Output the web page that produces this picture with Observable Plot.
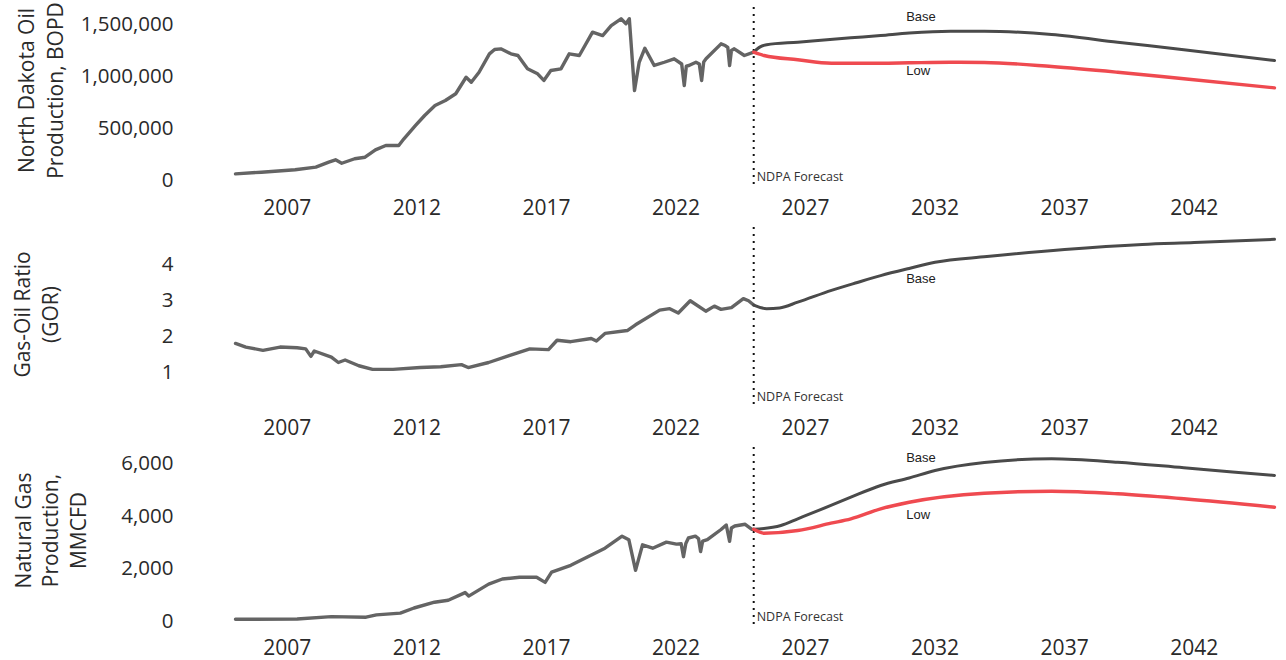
<!DOCTYPE html>
<html><head><meta charset="utf-8">
<script src="https://cdn.jsdelivr.net/npm/d3@7"></script>
<script src="https://cdn.jsdelivr.net/npm/@observablehq/plot@0.6"></script>
<style>
body{margin:0;background:#fff;}
#chart{position:relative;width:1286px;height:660px;overflow:hidden;}
#chart svg{display:block;overflow:visible;}
</style></head><body><div id="chart"></div>
<script>
// ---------- data ----------
const xTicks = [2007, 2012, 2017, 2022, 2027, 2032, 2037, 2042];
const forecastStart = 2025;
const forecastLabel = "NDPA Forecast";
const labelYear = 2031;

// Oil production, BOPD
const oilHistYear = [2005.0, 2006.0, 2007.3, 2008.1, 2008.6, 2008.86, 2009.1, 2009.6, 2010.0, 2010.4, 2010.8, 2011.3, 2011.5, 2011.95, 2012.3, 2012.7, 2013.1, 2013.5, 2013.9, 2014.1, 2014.4, 2014.8, 2015.0, 2015.24, 2015.63, 2015.9, 2016.27, 2016.66, 2016.9, 2017.17, 2017.56, 2017.88, 2018.27, 2018.78, 2019.17, 2019.5, 2019.88, 2020.07, 2020.2, 2020.4, 2020.58, 2020.8, 2021.16, 2021.55, 2021.93, 2022.22, 2022.32, 2022.4, 2022.5, 2022.77, 2022.9, 2022.99, 2023.07, 2023.16, 2023.74, 2023.9, 2024.0, 2024.07, 2024.14, 2024.25, 2024.64, 2025.0];
const oilHistValue = [64000, 80000, 103000, 128000, 176000, 199000, 166000, 209000, 224000, 295000, 337000, 337000, 401000, 529000, 625000, 721000, 769000, 834000, 993000, 945000, 1041000, 1218000, 1260000, 1266000, 1218000, 1202000, 1074000, 1026000, 962000, 1058000, 1074000, 1218000, 1202000, 1426000, 1394000, 1490000, 1555000, 1507000, 1555000, 865000, 1137000, 1272000, 1106000, 1137000, 1170000, 1120000, 913000, 1100000, 1106000, 1137000, 1120000, 962000, 1140000, 1170000, 1314000, 1298000, 1280000, 1106000, 1250000, 1266000, 1202000, 1234000];
const oilBaseYear = [2025.0, 2025.25, 2025.5, 2026.7, 2028.75, 2029.9, 2031.0, 2032.6, 2033.9, 2036.5, 2039.05, 2041.6, 2045.1];
const oilBaseValue = [1234000, 1285000, 1305000, 1330000, 1372000, 1394000, 1418000, 1436000, 1436000, 1404000, 1330000, 1257000, 1154000];
const oilLowYear = [2025.0, 2025.4, 2026.7, 2028.0, 2029.9, 2031.0, 2032.6, 2033.9, 2036.5, 2039.05, 2041.6, 2045.1];
const oilLowValue = [1234000, 1202000, 1161000, 1128000, 1128000, 1132000, 1137000, 1135000, 1096000, 1041000, 978000, 891000];
const oilTicks = [0, 500000, 1000000, 1500000];

// Gas-oil ratio
const gorHistYear = [2005.0, 2005.4, 2006.06, 2006.72, 2007.38, 2007.71, 2007.91, 2008.04, 2008.7, 2008.97, 2009.23, 2009.76, 2010.29, 2011.08, 2012.13, 2012.92, 2013.72, 2013.98, 2014.77, 2015.56, 2016.36, 2017.08, 2017.41, 2017.94, 2018.73, 2018.93, 2019.26, 2020.12, 2020.44, 2021.37, 2021.76, 2022.09, 2022.55, 2023.15, 2023.48, 2023.74, 2024.14, 2024.6, 2024.8, 2025.0];
const gorHistValue = [1.80, 1.70, 1.61, 1.70, 1.68, 1.65, 1.44, 1.59, 1.42, 1.27, 1.34, 1.18, 1.08, 1.08, 1.13, 1.15, 1.21, 1.13, 1.27, 1.46, 1.65, 1.63, 1.89, 1.85, 1.94, 1.87, 2.08, 2.16, 2.32, 2.73, 2.77, 2.65, 2.99, 2.70, 2.84, 2.75, 2.80, 3.05, 2.99, 2.87];
const gorBaseYear = [2025.0, 2025.5, 2026.0, 2026.7, 2028.0, 2029.0, 2029.9, 2031.0, 2032.0, 2034.0, 2037.0, 2040.0, 2042.0, 2045.1];
const gorBaseValue = [2.87, 2.77, 2.79, 2.95, 3.28, 3.50, 3.69, 3.89, 4.06, 4.22, 4.42, 4.56, 4.61, 4.70];
const gorTicks = [1, 2, 3, 4];

// Natural gas production, MMCFD
const gasHistYear = [2005.0, 2007.38, 2008.7, 2010.04, 2010.44, 2011.36, 2011.89, 2012.68, 2013.21, 2013.86, 2014.0, 2014.77, 2015.3, 2015.96, 2016.62, 2016.95, 2017.2, 2017.94, 2018.6, 2019.26, 2019.92, 2020.18, 2020.44, 2020.71, 2021.1, 2021.63, 2022.02, 2022.2, 2022.29, 2022.38, 2022.48, 2022.75, 2022.87, 2022.95, 2023.03, 2023.21, 2023.74, 2023.94, 2024.07, 2024.14, 2024.27, 2024.67, 2024.93, 2025.0];
const gasHistValue = [84, 95, 186, 163, 251, 319, 513, 733, 809, 1098, 965, 1420, 1614, 1679, 1679, 1485, 1876, 2134, 2461, 2784, 3240, 3107, 1941, 2913, 2784, 3016, 2940, 2950, 2461, 2960, 3171, 3240, 3150, 2655, 3050, 3107, 3494, 3665, 3042, 3550, 3627, 3692, 3498, 3500];
const gasBaseYear = [2025.0, 2026.05, 2026.7, 2027.98, 2028.75, 2029.9, 2031.0, 2032.0, 2033.9, 2036.5, 2039.05, 2041.6, 2045.1];
const gasBaseValue = [3500, 3646, 3900, 4406, 4721, 5165, 5450, 5735, 6040, 6179, 6050, 5837, 5545];
const gasLowYear = [2025.0, 2025.4, 2026.7, 2027.98, 2028.75, 2029.9, 2031.0, 2033.9, 2036.5, 2039.05, 2041.6, 2045.1];
const gasLowValue = [3500, 3354, 3456, 3733, 3900, 4280, 4530, 4873, 4949, 4850, 4660, 4341];
const gasTicks = [0, 2000, 4000, 6000];

// ---------- drawing ----------
const rows = (ys, vs) => ys.map((t, i) => ({t, v: vs[i]}));
const W = 1286, H = 220;
const tickFont = "'Open Sans', 'Noto Sans', sans-serif";
const smallFont = "'Liberation Sans', Arial, sans-serif";

function panel(o) {
  const hist = rows(o.histYear, o.histValue);
  const base = rows(o.baseYear, o.baseValue);
  const low = o.lowYear ? rows(o.lowYear, o.lowValue) : null;
  const marks = [
    Plot.axisX({ticks: xTicks, tickFormat: d => String(d), tickSize: 0, tickPadding: 20, label: null, fill: "#2a2a2a", fontSize: 21}),
    Plot.axisY({ticks: o.ticks, tickFormat: d3.format(","), tickSize: 0, tickPadding: 62, label: null, fill: "#2a2a2a", fontSize: 20.5}),
    Plot.text([o.title], {frameAnchor: "left", text: d => d, rotate: -90, textAnchor: "middle", lineAnchor: "middle",
      dx: o.titleDx, dy: o.titleDy, fontSize: 21, lineHeight: o.titleLH, fill: "#2a2a2a", fontFamily: tickFont}),
    Plot.ruleX([forecastStart], {stroke: "#111", strokeWidth: 2, strokeDasharray: "2,5", insetTop: -17, insetBottom: -5}),
    Plot.text([forecastStart], {x: d => d, frameAnchor: "bottom", text: () => forecastLabel, textAnchor: "start",
      lineAnchor: "middle", dx: 3, dy: -4, fontSize: 12.5, fill: "#333", fontFamily: tickFont}),
    Plot.line(hist, {x: "t", y: "v", stroke: "#646464", strokeWidth: 3.4, strokeLinejoin: "round"}),
    Plot.line(base, {x: "t", y: "v", stroke: "#4a4a4a", strokeWidth: 3, curve: "monotone-x"}),
  ];
  if (low) marks.push(Plot.line(low, {x: "t", y: "v", stroke: "#ef4a50", strokeWidth: 3.4, curve: "monotone-x"}));
  marks.push(Plot.text(base.filter(d => d.t === labelYear), {x: "t", y: "v", text: () => "Base", textAnchor: "start",
    dx: -3, dy: o.baseDy, fontSize: 13, fill: "#222", fontFamily: smallFont}));
  if (low) marks.push(Plot.text(low.filter(d => d.t === labelYear), {x: "t", y: "v", text: () => "Low", textAnchor: "start",
    dx: -3, dy: o.lowDy, fontSize: 13, fill: "#222", fontFamily: smallFont}));
  return Plot.plot({
    width: W, height: H, marginLeft: 235, marginRight: 12, marginTop: 24, marginBottom: 40,
    style: {fontSize: "21px", fontFamily: tickFont, background: "transparent"},
    x: {domain: [2005, 2045.1], range: [235, 1274]},
    y: {domain: o.domain, range: o.range},
    marks
  });
}

const chart = document.getElementById("chart");
chart.append(panel({
  title: "North Dakota Oil\nProduction, BOPD", titleDx: -196, titleDy: -12, titleLH: 1.38,
  histYear: oilHistYear, histValue: oilHistValue, baseYear: oilBaseYear, baseValue: oilBaseValue,
  lowYear: oilLowYear, lowValue: oilLowValue, ticks: oilTicks,
  domain: [0, 1500000], range: [180, 24], baseDy: -16.5, lowDy: 8
}));
chart.append(panel({
  title: "Gas-Oil Ratio\n(GOR)", titleDx: -200, titleDy: -8, titleLH: 1.33,
  histYear: gorHistYear, histValue: gorHistValue, baseYear: gorBaseYear, baseValue: gorBaseValue,
  ticks: gorTicks, domain: [0, 4], range: [187.6, 44], baseDy: 10
}));
chart.append(panel({
  title: "Natural Gas\nProduction,\nMMCFD", titleDx: -186, titleDy: -12, titleLH: 1.3,
  histYear: gasHistYear, histValue: gasHistValue, baseYear: gasBaseYear, baseValue: gasBaseValue,
  lowYear: gasLowYear, lowValue: gasLowValue, ticks: gasTicks,
  domain: [0, 6000], range: [181, 23], baseDy: -20.5, lowDy: 13
}));
</script></body></html>
